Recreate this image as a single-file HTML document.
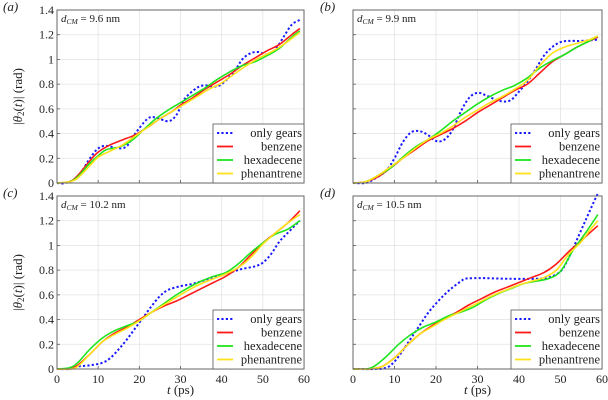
<!DOCTYPE html>
<html><head><meta charset="utf-8"><style>
body{margin:0;background:#fff}
svg{display:block}
svg text{font-family:"Liberation Serif","DejaVu Serif",serif}
</style></head><body>
<svg id="c" width="608" height="400" xmlns="http://www.w3.org/2000/svg" font-family="Liberation Serif, serif"></svg>
<script>
const xTicks=[0,10,20,30,40,50,60];
const yTicks=[0,0.2,0.4,0.6,0.8,1,1.2,1.4];
const yTickLabels=["0","0.2","0.4","0.6","0.8","1","1.2","1.4"];
const seriesNames=["only gears","benzene","hexadecene","phenantrene"];
const panelLetters=["(a)","(b)","(c)","(d)"];
const panelDist=["9.6","9.9","10.2","10.5"];

const a_gears=[[0,0],[2,0],[5,0.05],[8,0.2],[10,0.28],[12,0.3],[15,0.28],[17,0.3],[19,0.4],[22,0.52],[24,0.53],[27,0.5],[29,0.55],[31,0.68],[34,0.77],[36,0.79],[38,0.78],[40,0.8],[43,0.9],[45,1.0],[47,1.05],[49,1.06],[51,1.04],[53,1.08],[55,1.18],[57,1.28],[59,1.32]];
const a_benz=[[0,0],[3,0.01],[5,0.06],[8,0.18],[10,0.25],[13,0.31],[16,0.35],[19,0.39],[22,0.45],[25,0.52],[28,0.58],[30,0.63],[33,0.69],[36,0.76],[39,0.82],[42,0.88],[45,0.95],[48,1.01],[51,1.07],[54,1.12],[57,1.2],[59,1.25]];
const a_hexa=[[0,0],[3,0.01],[5,0.05],[8,0.16],[10,0.22],[12,0.27],[15,0.29],[18,0.34],[21,0.43],[24,0.52],[27,0.59],[30,0.65],[33,0.71],[36,0.77],[39,0.84],[42,0.9],[45,0.95],[48,0.98],[51,1.03],[54,1.09],[57,1.18],[59,1.23]];
const a_phen=[[0,0],[3,0.01],[5,0.04],[8,0.14],[10,0.21],[13,0.26],[16,0.31],[19,0.38],[22,0.45],[25,0.52],[28,0.58],[31,0.64],[34,0.7],[37,0.76],[40,0.81],[43,0.88],[46,0.95],[49,1.01],[52,1.06],[55,1.12],[59,1.22]];

const b_gears=[[0,0],[3,0],[5,0.03],[8,0.1],[10,0.2],[12,0.33],[14,0.41],[16,0.42],[18,0.39],[20,0.34],[22,0.35],[24,0.43],[26,0.58],[28,0.69],[30,0.73],[32,0.71],[34,0.68],[36,0.66],[38,0.67],[40,0.74],[42,0.82],[44,0.92],[46,1.03],[48,1.1],[50,1.14],[52,1.15],[55,1.15],[59,1.16]];
const b_benz=[[0,0],[3,0.01],[6,0.05],[9,0.12],[12,0.2],[15,0.27],[18,0.34],[21,0.39],[24,0.44],[27,0.5],[30,0.57],[33,0.63],[36,0.69],[39,0.75],[42,0.8],[45,0.89],[48,0.98],[51,1.04],[54,1.1],[57,1.15],[59,1.18]];
const b_hexa=[[0,0],[3,0.01],[6,0.06],[9,0.12],[12,0.21],[15,0.29],[18,0.35],[21,0.42],[24,0.5],[27,0.57],[30,0.64],[33,0.7],[36,0.75],[39,0.79],[42,0.85],[45,0.93],[48,0.99],[51,1.04],[54,1.1],[57,1.15],[59,1.19]];
const b_phen=[[0,0],[3,0.01],[6,0.06],[9,0.13],[12,0.2],[15,0.28],[18,0.35],[21,0.4],[24,0.46],[27,0.53],[30,0.59],[33,0.65],[36,0.7],[39,0.76],[42,0.83],[45,0.95],[48,1.05],[51,1.1],[54,1.13],[57,1.16],[59,1.19]];

const c_gears=[[0,0],[3,0],[5,0.02],[8,0.03],[11,0.05],[13,0.09],[15,0.16],[17,0.24],[19,0.33],[21,0.42],[23,0.51],[25,0.59],[27,0.64],[30,0.67],[33,0.69],[36,0.72],[39,0.75],[42,0.78],[45,0.81],[48,0.83],[50,0.86],[52,0.93],[54,1.03],[56,1.1],[59,1.2]];
const c_benz=[[0,0],[3,0],[5,0.03],[8,0.12],[11,0.22],[14,0.29],[17,0.34],[20,0.4],[23,0.46],[26,0.51],[29,0.55],[32,0.6],[35,0.65],[38,0.7],[41,0.75],[44,0.82],[47,0.92],[50,1.02],[53,1.1],[56,1.18],[59,1.28]];
const c_hexa=[[0,0],[3,0.01],[5,0.05],[8,0.16],[11,0.25],[14,0.31],[17,0.35],[20,0.39],[23,0.46],[26,0.53],[29,0.6],[32,0.66],[35,0.71],[38,0.75],[41,0.78],[44,0.85],[47,0.94],[50,1.02],[53,1.09],[56,1.13],[59,1.2]];
const c_phen=[[0,0],[3,0],[5,0.02],[8,0.12],[11,0.22],[14,0.28],[17,0.33],[20,0.39],[23,0.46],[26,0.52],[29,0.58],[32,0.64],[35,0.69],[38,0.73],[41,0.77],[44,0.82],[47,0.9],[50,1.01],[53,1.1],[56,1.18],[59,1.25]];

const d_gears=[[0,0],[5,0],[8,0.01],[10,0.06],[12,0.15],[14,0.25],[16,0.35],[18,0.45],[20,0.53],[22,0.6],[24,0.66],[26,0.71],[27,0.73],[29,0.735],[32,0.735],[38,0.73],[44,0.73],[47,0.74],[50,0.79],[52,0.9],[54,1.05],[56,1.2],[58,1.35],[59,1.42]];
const d_benz=[[0,0],[4,0],[7,0.02],[10,0.09],[13,0.19],[16,0.28],[19,0.35],[22,0.41],[25,0.46],[28,0.52],[31,0.57],[34,0.62],[37,0.66],[40,0.7],[43,0.74],[46,0.78],[49,0.85],[52,0.95],[55,1.04],[57,1.1],[59,1.16]];
const d_hexa=[[0,0],[3,0],[5,0.02],[8,0.1],[11,0.2],[14,0.28],[17,0.34],[20,0.38],[23,0.43],[26,0.46],[29,0.5],[32,0.56],[35,0.61],[38,0.65],[41,0.69],[44,0.71],[47,0.73],[50,0.79],[53,0.96],[56,1.1],[59,1.25]];
const d_phen=[[0,0],[4,0],[7,0.02],[10,0.09],[13,0.19],[16,0.28],[19,0.34],[22,0.4],[25,0.45],[28,0.5],[31,0.55],[34,0.6],[37,0.64],[40,0.68],[43,0.71],[46,0.74],[49,0.8],[52,0.93],[55,1.03],[57,1.12],[59,1.2]];

const NS="http://www.w3.org/2000/svg";
const svg=document.getElementById('c');
const FF='"Liberation Serif", serif';
function el(tag,attrs,parent,text){const e=document.createElementNS(NS,tag);for(const k in attrs)e.setAttribute(k,attrs[k]);if(tag==='text')e.style.fontFamily=FF;if(text!==undefined)e.textContent=text;(parent||svg).appendChild(e);return e;}
const colors=["#1a1aff","#ff1a1a","#1ee61e","#ffe11a"];
const panels=[
 {x0:57,x1:304,y0:183,y1:10,data:[a_gears,a_benz,a_hexa,a_phen],ylab:true,xlab:false},
 {x0:353,x1:602,y0:183,y1:10,data:[b_gears,b_benz,b_hexa,b_phen],ylab:false,xlab:false},
 {x0:57,x1:304,y0:369,y1:196,data:[c_gears,c_benz,c_hexa,c_phen],ylab:true,xlab:true},
 {x0:353,x1:602,y0:369,y1:196,data:[d_gears,d_benz,d_hexa,d_phen],ylab:false,xlab:true}
];
function pathFrom(pts){
 let d="M"+pts[0][0].toFixed(2)+","+pts[0][1].toFixed(2);
 for(let i=0;i<pts.length-1;i++){
  const p0=pts[Math.max(i-1,0)],p1=pts[i],p2=pts[i+1],p3=pts[Math.min(i+2,pts.length-1)];
  const c1=[p1[0]+(p2[0]-p0[0])/6,p1[1]+(p2[1]-p0[1])/6];
  const c2=[p2[0]-(p3[0]-p1[0])/6,p2[1]-(p3[1]-p1[1])/6];
  d+=" C"+c1[0].toFixed(2)+","+c1[1].toFixed(2)+" "+c2[0].toFixed(2)+","+c2[1].toFixed(2)+" "+p2[0].toFixed(2)+","+p2[1].toFixed(2);
 }
 return d;
}
panels.forEach((p,pi)=>{
 const g=el('g',{});
 
 
 const X=t=>p.x0+(t/60)*(p.x1-p.x0);
 const Y=v=>p.y0-(v/1.4)*(p.y0-p.y1);
 xTicks.forEach(t=>{
  const l=el('line',{x1:X(t),x2:X(t),y1:p.y1,y2:p.y0,stroke:"#e4e4e4","stroke-width":0.8},g);
  
  
  el('line',{x1:X(t),x2:X(t),y1:p.y0,y2:p.y0-3,stroke:"#555","stroke-width":0.8},g);
  if(p.xlab){const tx=el('text',{x:X(t),y:p.y0+14,"text-anchor":"middle","font-size":"12",fill:"#222"},g,String(t));
   
   }
 });
 yTicks.forEach((v,i)=>{
  const l=el('line',{x1:p.x0,x2:p.x1,y1:Y(v),y2:Y(v),stroke:"#e4e4e4","stroke-width":0.8},g);
  
  
  el('line',{x1:p.x0,x2:p.x0+3,y1:Y(v),y2:Y(v),stroke:"#555","stroke-width":0.8},g);
  if(p.ylab){const tx=el('text',{x:p.x0-3,y:Y(v)+4,"text-anchor":"end","font-size":"12",fill:"#222"},g,yTickLabels[i]);
   
   }
 });
 p.data.forEach((s,si)=>{
  const pts=s.map(q=>[X(q[0]),Y(q[1])]);
  const a={d:pathFrom(pts),fill:"none",stroke:colors[si],"stroke-width":si==0?2:1.6};
  if(si==0)a["stroke-dasharray"]="2.2,2.2";
  const path=el('path',a,g);
  
  
 });
 const box=el('rect',{x:p.x0,y:p.y1,width:p.x1-p.x0,height:p.y0-p.y1,fill:"none",stroke:"#666","stroke-width":1},g);
 
 
 const ann=el('text',{x:p.x0+4,y:p.y1+12,"font-size":"11",fill:"#222"},g);
 
 
 el('tspan',{"font-style":"italic"},ann,"d");
 el('tspan',{"font-style":"italic","font-size":"7.5",dy:"2"},ann,"CM");
 el('tspan',{dy:"-2"},ann," = "+panelDist[pi]+" nm");
 const lt=el('text',{x:pi%2?320:3,y:p.y1+1,"font-size":"13","font-style":"italic",fill:"#222"},g,panelLetters[pi]);
 
 
 const lg=el('g',{},g);
 
 
 const lx=p.x1-91,ly=p.y0-59;
 el('rect',{x:lx,y:ly,width:91,height:59,fill:"#fff",stroke:"#555","stroke-width":0.8},lg);
 seriesNames.forEach((n,si)=>{
  const yy=ly+9+si*13.5;
  const la={x1:lx+4,x2:lx+20,y1:yy,y2:yy,stroke:colors[si],"stroke-width":si==0?2:1.8};
  if(si==0)la["stroke-dasharray"]="2.2,2.2";
  const ln=el('line',la,lg);
  
  
  const t=el('text',{x:lx+89,y:yy+4,"text-anchor":"end","font-size":"12.5",fill:"#222"},lg,n);
  
  
 });
 if(p.xlab){
  const xl=el('text',{x:(p.x0+p.x1)/2,y:394,"text-anchor":"middle","font-size":"13",fill:"#222"},g);
  
  
  el('tspan',{"font-style":"italic"},xl,"t");
  el('tspan',{},xl," (ps)");
 }
 if(p.ylab){
  const cy=(p.y0+p.y1)/2;
  const yl=el('text',{x:0,y:0,transform:`translate(22,${cy}) rotate(-90)`,"text-anchor":"middle","font-size":"13",fill:"#222"},g);
  
  
  el('tspan',{},yl,"|");
  el('tspan',{"font-style":"italic"},yl,"θ");
  el('tspan',{"font-size":"9",dy:"2"},yl,"2");
  el('tspan',{dy:"-2"},yl,"(");
  el('tspan',{"font-style":"italic"},yl,"t");
  el('tspan',{},yl,")| (rad)");
 }
});
</script>
</body></html>
